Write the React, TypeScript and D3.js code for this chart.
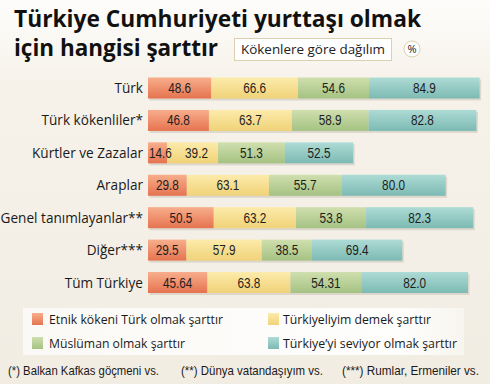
import React from "react";
import * as d3 from "d3";

const categories = ["Türk", "Türk kökenliler*", "Kürtler ve Zazalar", "Araplar", "Genel tanımlayanlar**", "Diğer***", "Tüm Türkiye"];
const etnik = [48.6, 46.8, 14.6, 29.8, 50.5, 29.5, 45.64];
const turkiyeli = [66.6, 63.7, 39.2, 63.1, 63.2, 57.9, 63.8];
const muslim = [54.6, 58.9, 51.3, 55.7, 53.8, 38.5, 54.31];
const seviyor = [84.9, 82.8, 52.5, 80.0, 82.3, 69.4, 82.0];
const seriesNames = ["Etnik kökeni Türk olmak şarttır", "Türkiyeliyim demek şarttır", "Müslüman olmak şarttır", "Türkiye’yi seviyor olmak şarttır"];
const valueLabels = [
  ["48.6", "46.8", "14.6", "29.8", "50.5", "29.5", "45.64"],
  ["66.6", "63.7", "39.2", "63.1", "63.2", "57.9", "63.8"],
  ["54.6", "58.9", "51.3", "55.7", "53.8", "38.5", "54.31"],
  ["84.9", "82.8", "52.5", "80.0", "82.3", "69.4", "82.0"],
];
const footnotes = ["(*) Balkan Kafkas göçmeni vs.", "(**) Dünya vatandaşıyım vs.", "(***) Rumlar, Ermeniler vs."];

const gradTop = ["#f7ae8c", "#fcebab", "#cfdfae", "#aedbd5"];
const gradBot = ["#e6734f", "#f0d278", "#a5c283", "#7cbab3"];

const W = 490, H = 384;
const labelFont = "'Open Sans', 'Noto Sans', sans-serif";
const narrowFont = "'Liberation Sans Narrow', 'Liberation Sans', sans-serif";

function numWidth(s: string) {
  let w = 0;
  for (const ch of s) w += ch === "." ? 3.4 : 6.5;
  return w;
}

export default function App() {
  const series = [etnik, turkiyeli, muslim, seviyor];
  const x = d3.scaleLinear().domain([0, 255]).range([148, 480]);
  const y = d3.scalePoint<string>().domain(categories).range([88, 282.5]);
  const barH = 21;
  const rows = categories.map((c, i) => {
    const vals = series.map((s) => s[i]);
    let acc = 0;
    const segs = vals.map((v, k) => {
      const s0 = acc;
      acc += v;
      return { k, s0, s1: acc, label: valueLabels[k][i] };
    });
    return { c, segs, total: acc };
  });
  const legendPos = [
    [32, 319],
    [268, 319],
    [32, 343],
    [268, 343],
  ];
  const legendW = [174, 148, 136, 174];
  const footX = [8, 181, 342];
  const footW = [151, 142, 137];
  const squeeze = 0.8;

  return (
    <svg width={W} height={H} style={{ position: "absolute", left: 0, top: 0 }}>
      <defs>
        <linearGradient id="bg" x1="0" y1="0" x2="0" y2="1">
          <stop offset="0" stopColor="#fefdfb" />
          <stop offset="0.22" stopColor="#f6f2ea" />
          <stop offset="1" stopColor="#f2ede3" />
        </linearGradient>
        {gradTop.map((t, k) => (
          <linearGradient key={k} id={`g${k}`} x1="0" y1="0" x2="0" y2="1">
            <stop offset="0" stopColor={t} />
            <stop offset="1" stopColor={gradBot[k]} />
          </linearGradient>
        ))}
        <linearGradient id="leg" x1="0" y1="0" x2="1" y2="0">
          <stop offset="0" stopColor="#fbf9f5" />
          <stop offset="0.85" stopColor="#fefefd" />
          <stop offset="1" stopColor="#f8f5ef" />
        </linearGradient>
      </defs>
      <rect x={0} y={0} width={W} height={H} fill="url(#bg)" />

      <g fontFamily={labelFont} fontWeight={700} fill="#111">
        <text x={14} y={27} fontSize={22.5} textLength={407} lengthAdjust="spacingAndGlyphs">Türkiye Cumhuriyeti yurttaşı olmak</text>
        <text x={14} y={56} fontSize={22.5} textLength={204} lengthAdjust="spacingAndGlyphs">için hangisi şarttır</text>
      </g>
      <rect x={234.5} y={38.5} width={157} height={22} fill="#fff" stroke="#dccfb2" />
      <text x={241} y={54} fontFamily={labelFont} fontSize={12.5} fill="#222" textLength={144} lengthAdjust="spacingAndGlyphs">Kökenlere göre dağılım</text>
      <circle cx={412} cy={49} r={8} fill="#fff" stroke="#dccfb2" />
      <text x={412} y={53} textAnchor="middle" fontFamily={labelFont} fontSize={11} fill="#222">%</text>

      {rows.map((r) => {
        const cy = y(r.c) as number;
        const firstSmall = r.segs[0].s1 - r.segs[0].s0 < 20;
        return (
          <g key={r.c}>
            <rect x={x(0) + 1.5} y={cy - barH / 2 + 2} width={x(r.total) - x(0)} height={barH} fill="#c9c2b6" opacity={0.55} />
            {r.segs.map((s) => (
              <rect key={s.k} x={x(s.s0)} y={cy - barH / 2} width={x(s.s1) - x(s.s0)} height={barH} fill={`url(#g${s.k})`} />
            ))}
            {r.segs.map((s) => {
              const small = firstSmall && s.k === 0;
              const cx = small ? x(s.s0) + 1 : (x(s.s0) + x(s.s1)) / 2 + (firstSmall && s.k === 1 ? 4 : 0);
              return (
                <text key={`t${s.k}`} x={cx} y={cy + 5} textAnchor={small ? "start" : "middle"} fontFamily={narrowFont} fontSize={14} fill="#1e1e1e" textLength={numWidth(s.label)} lengthAdjust="spacingAndGlyphs">
                  {s.label}
                </text>
              );
            })}
            <text x={143} y={cy + 5} textAnchor="end" fontFamily={labelFont} fontSize={13.6} fill="#1a1a1a">
              {r.c}
            </text>
          </g>
        );
      })}

      <rect x={23} y={308} width={441} height={47} fill="url(#leg)" />
      {seriesNames.map((n, k) => (
        <g key={n}>
          <rect x={legendPos[k][0]} y={legendPos[k][1] - 6} width={11} height={12} fill={`url(#g${k})`} />
          <text x={legendPos[k][0] + (k % 2 === 0 ? 17 : 15)} y={legendPos[k][1] + 5} fontFamily={labelFont} fontSize={13} fill="#1a1a1a" textLength={legendW[k]} lengthAdjust="spacingAndGlyphs">
            {n}
          </text>
        </g>
      ))}

      {footnotes.map((f, i) => (
        <g key={f} transform={`translate(${footX[i]},375) scale(${squeeze},1)`}>
          <text x={0} y={0} fontFamily={narrowFont} fontSize={13} fill="#1a1a1a" textLength={footW[i] / squeeze} lengthAdjust="spacingAndGlyphs">
            {f}
          </text>
        </g>
      ))}
    </svg>
  );
}
